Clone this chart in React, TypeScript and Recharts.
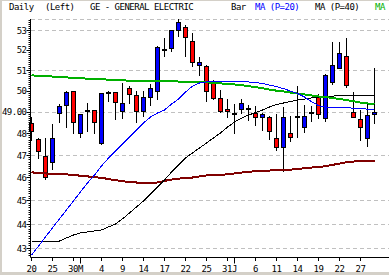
import React from 'react';
import { ComposedChart, Bar, Line, XAxis, YAxis, CartesianGrid } from 'recharts';

// GE daily bars, Apr 20 - Jun 29
const dates = [
  '4/20', '4/23', '4/24', '4/25', '4/26', '4/27', '4/30', '5/1', '5/2', '5/3',
  '5/4', '5/7', '5/8', '5/9', '5/10', '5/11', '5/14', '5/15', '5/16', '5/17',
  '5/18', '5/21', '5/22', '5/23', '5/24', '5/25', '5/29', '5/30', '5/31', '6/1',
  '6/4', '6/5', '6/6', '6/7', '6/8', '6/11', '6/12', '6/13', '6/14', '6/15',
  '6/18', '6/19', '6/20', '6/21', '6/22', '6/25', '6/26', '6/27', '6/28', '6/29',
];
const opens = [
  48.48, 47.74, 46.97, 46.72, 48.95, 49.34, 50.0, 48.05, 49.08, 49.08,
  47.56, 49.94, 49.94, 49.03, 50.17, 49.81, 49.03, 49.73, 50.0, 52.08,
  52.12, 53.02, 53.15, 52.46, 51.29, 51.24, 50.38, 49.66, 49.14, 48.98,
  49.14, 49.19, 48.95, 48.76, 48.79, 47.82, 47.41, 48.05, 48.84, 48.32,
  49.0, 49.77, 48.71, 50.43, 51.13, 51.71, 49.0, 48.67, 47.78, 48.9,
];
const highs = [
  48.75, 47.78, 47.78, 48.43, 49.38, 50.0, 50.02, 48.93, 49.42, 49.1,
  49.92, 50.0, 49.95, 50.38, 50.22, 50.0, 50.0, 50.33, 52.22, 52.63,
  53.03, 53.56, 53.27, 52.85, 51.68, 51.25, 50.55, 50.05, 49.63, 49.38,
  49.63, 49.34, 49.31, 48.95, 48.8, 48.92, 49.22, 48.84, 50.22, 49.34,
  49.27, 49.84, 50.83, 52.42, 52.42, 52.61, 49.94, 49.11, 49.42, 51.1,
];
const lows = [
  47.65, 46.83, 45.89, 46.35, 48.48, 48.24, 47.96, 47.78, 48.08, 47.96,
  47.46, 49.47, 48.63, 48.68, 49.38, 48.48, 48.75, 49.27, 49.58, 51.68,
  51.92, 52.68, 51.68, 51.16, 50.72, 49.5, 49.58, 48.95, 48.71, 47.96,
  48.9, 48.59, 48.37, 48.13, 47.71, 47.19, 46.25, 47.63, 47.81, 48.05,
  48.52, 48.68, 48.52, 50.3, 51.05, 50.13, 48.75, 47.66, 47.37, 48.43,
];
const closes = [
  48.1, 47.22, 46.03, 47.78, 49.3, 49.94, 48.52, 48.92, 49.08, 48.52,
  49.89, 49.94, 49.5, 49.42, 49.84, 49.03, 49.7, 50.13, 52.17, 52.08,
  53.02, 53.44, 52.68, 51.41, 51.41, 50.0, 49.69, 49.03, 49.03, 48.98,
  49.42, 49.19, 48.76, 48.9, 48.13, 47.41, 48.76, 47.85, 48.84, 48.83,
  49.0, 48.9, 50.77, 51.25, 51.84, 50.27, 48.79, 48.29, 48.87, 49.0,
];

const ma20 = [
  42.72, 43.09, 43.47, 43.85, 44.23, 44.61, 45.0, 45.39, 45.78, 46.13,
  46.53, 46.89, 47.21, 47.52, 47.84, 48.17, 48.49, 48.77, 48.96, 49.1,
  49.38, 49.62, 49.95, 50.24, 50.39, 50.44, 50.45, 50.45, 50.45, 50.45,
  50.45, 50.44, 50.41, 50.37, 50.29, 50.21, 50.12, 50.0, 49.88, 49.72,
  49.49, 49.31, 49.23, 49.23, 49.23, 49.22, 49.18, 49.17, 49.14, 49.13,
];
const ma40 = [
  43.3, 43.3, 43.3, 43.3, 43.3, 43.43, 43.55, 43.64, 43.68, 43.72,
  43.76, 43.89, 44.01, 44.23, 44.48, 44.74, 45.0, 45.3, 45.6, 45.91,
  46.26, 46.58, 46.89, 47.12, 47.34, 47.57, 47.8, 48.03, 48.3, 48.54,
  48.72, 48.86, 48.98, 49.1, 49.24, 49.36, 49.43, 49.5, 49.57, 49.62,
  49.67, 49.7, 49.73, 49.76, 49.78, 49.78, 49.78, 49.78, 49.78, 49.78,
];
const maGreen = [
  50.76, 50.74, 50.73, 50.7, 50.68, 50.66, 50.64, 50.62, 50.6, 50.58,
  50.57, 50.55, 50.53, 50.52, 50.5, 50.49, 50.48, 50.48, 50.48, 50.48,
  50.47, 50.46, 50.45, 50.44, 50.43, 50.42, 50.4, 50.37, 50.34, 50.32,
  50.28, 50.24, 50.19, 50.14, 50.07, 50.02, 49.98, 49.93, 49.88, 49.84,
  49.79, 49.74, 49.71, 49.67, 49.62, 49.57, 49.52, 49.45, 49.41, 49.37,
];
const maRed = [
  46.25, 46.22, 46.2, 46.18, 46.18, 46.16, 46.13, 46.1, 46.07, 46.03,
  46.01, 45.95, 45.9, 45.86, 45.82, 45.8, 45.79, 45.78, 45.8, 45.87,
  45.93, 45.97, 46.0, 46.02, 46.07, 46.11, 46.13, 46.14, 46.16, 46.2,
  46.24, 46.27, 46.3, 46.31, 46.33, 46.34, 46.35, 46.37, 46.4, 46.43,
  46.46, 46.49, 46.52, 46.58, 46.64, 46.7, 46.73, 46.76, 46.76, 46.76,
];

const priceTicks = [43, 44, 45, 46, 47, 48, 49, 50, 51, 52, 53];
const dateTicks = ['4/20', '4/25', '4/30', '5/4', '5/9', '5/14', '5/17', '5/22', '5/25', '5/31', '6/6', '6/11', '6/14', '6/19', '6/22', '6/27'];
const dateLabels = ['20', '25', '30M', '4', '9', '14', '17', '22', '25', '31J', '6', '11', '14', '19', '22', '27'];
const monthStarts = ['5/1', '6/1'];

// small axis marks every 0.1
const minorTicks = Array.from({ length: 109 }, (_, k) => (427 + k) / 10);

const rows = dates.map((d, i) => ({
  d,
  o: opens[i],
  c: closes[i],
  wick: [lows[i], highs[i]],
  body: [Math.min(opens[i], closes[i]), Math.max(opens[i], closes[i])],
  ma20: ma20[i],
  ma40: ma40[i],
  maGreen: maGreen[i],
  maRed: maRed[i],
}));

const FONT = { fontFamily: 'DejaVu Sans Mono', fontSize: 9, letterSpacing: -0.5 };
const lastClose = closes[closes.length - 1];

const Wick = (p: any) => {
  const { x, width, y, height } = p;
  const cx = Math.round(x + width / 2 - 0.5) + 0.5;
  return <line x1={cx} x2={cx} y1={Math.round(y)} y2={Math.round(y + height)} stroke="#000" />;
};

const Body = (p: any) => {
  const { x, width, y, height, payload } = p;
  const cx = Math.round(x + width / 2 - 0.5) + 0.5;
  const top = Math.round(y);
  const h = Math.max(1, Math.round(y + height) - top);
  const fill = payload.c > payload.o ? '#0000ff' : payload.c < payload.o ? '#ff0000' : '#000000';
  return <rect x={cx - 2} y={top + 0.5} width={4} height={h} fill={fill} stroke="#000" />;
};

const YTick = (p: any) => {
  const { x, y, payload } = p;
  const v = payload.value;
  const yy = Math.round(y - 0.5) + 0.5;
  const major = Math.abs(v - Math.round(v)) < 1e-6;
  if (!major) return <line x1={x - 2} x2={x} y1={yy} y2={yy} stroke="#000" />;
  const lbl = v === lastClose ? v.toFixed(2) : String(v);
  return (
    <g>
      <line x1={x - 4} x2={x} y1={yy} y2={yy} stroke="#000" />
      <text x={x - 4} y={y + 3.3} textAnchor="end" fill="#000" style={FONT}>{lbl}</text>
    </g>
  );
};

const XTick = (p: any) => {
  const { x, y, payload } = p;
  const cx = Math.round(x - 0.5) + 0.5;
  const idx = dateTicks.indexOf(payload.value);
  if (idx < 0) return <line x1={cx} x2={cx} y1={y} y2={y + 6} stroke="#000" />;
  const label = dateLabels[idx];
  const dx = /[A-Z]/.test(label) ? 2 : 0;
  return (
    <g>
      <line x1={cx} x2={cx} y1={y} y2={y + 3.5} stroke="#000" />
      <text x={cx + dx} y={y + 14} textAnchor="middle" fill="#000" style={FONT}>{label}</text>
    </g>
  );
};

const header = [
  { x: 9, text: 'Daily', color: '#000' },
  { x: 45, text: '(Left)', color: '#000' },
  { x: 90, text: 'GE - GENERAL ELECTRIC', color: '#000' },
  { x: 231, text: 'Bar', color: '#000' },
  { x: 255, text: 'MA (P=20)', color: '#0000ff' },
  { x: 315, text: 'MA (P=40)', color: '#000' },
  { x: 375, text: 'MA', color: '#00b000' },
];

export default function App() {
  return (
    <div style={{ position: 'fixed', left: 0, top: 0, width: 389, height: 275, overflow: 'hidden', background: '#d4d0c8' }}>
      <div style={{ position: 'absolute', left: 2, top: 1, right: 0, bottom: 3, background: '#fff' }} />
      <svg width={389} height={14} style={{ position: 'absolute', left: 0, top: 0 }}>
        {header.map((h) => (
          <text key={h.x} x={h.x} y={10} fill={h.color} style={FONT}>{h.text}</text>
        ))}
      </svg>
      <div style={{ position: 'absolute', left: 0, top: 0 }}>
        <ComposedChart width={389} height={275} data={rows} margin={{ top: 19, right: 0, bottom: 0, left: 0 }}>
          <XAxis
            dataKey="d"
            xAxisId={0}
            ticks={[...dateTicks, ...monthStarts]}
            interval={0}
            tickLine={false}
            tickSize={0}
            tickMargin={0}
            axisLine={{ stroke: '#000' }}
            padding={{ left: -2.5, right: 11 }}
            height={17.5}
            tick={<XTick />}
          />
          <XAxis dataKey="d" xAxisId="b" hide padding={{ left: -2.5, right: 11 }} />
          <YAxis
            yAxisId={0}
            scale="log"
            domain={[42.62, 53.58]}
            allowDataOverflow
            ticks={minorTicks}
            interval={0}
            tickLine={false}
            tickSize={0}
            tickMargin={0}
            axisLine={{ stroke: '#000' }}
            width={30.5}
            tick={<YTick />}
          />
          <YAxis yAxisId="g" scale="log" domain={[42.62, 53.58]} allowDataOverflow ticks={priceTicks} hide />
          <CartesianGrid yAxisId="g" xAxisId={0} vertical={false} stroke="#c0c0c0" strokeDasharray="4 3" shapeRendering="crispEdges" />
          <Bar dataKey="wick" xAxisId={0} yAxisId={0} shape={<Wick />} isAnimationActive={false} />
          <Bar dataKey="body" xAxisId="b" yAxisId={0} shape={<Body />} isAnimationActive={false} />
          <Line dataKey="maRed" xAxisId={0} yAxisId={0} type="linear" stroke="#800000" strokeWidth={2} shapeRendering="crispEdges" dot={false} activeDot={false} isAnimationActive={false} />
          <Line dataKey="ma40" xAxisId={0} yAxisId={0} type="linear" stroke="#000000" strokeWidth={1} shapeRendering="crispEdges" dot={false} activeDot={false} isAnimationActive={false} />
          <Line dataKey="maGreen" xAxisId={0} yAxisId={0} type="linear" stroke="#00b000" strokeWidth={2} shapeRendering="crispEdges" dot={false} activeDot={false} isAnimationActive={false} />
          <Line dataKey="ma20" xAxisId={0} yAxisId={0} type="linear" stroke="#0000ff" strokeWidth={1} shapeRendering="crispEdges" dot={false} activeDot={false} isAnimationActive={false} />
        </ComposedChart>
      </div>
    </div>
  );
}
